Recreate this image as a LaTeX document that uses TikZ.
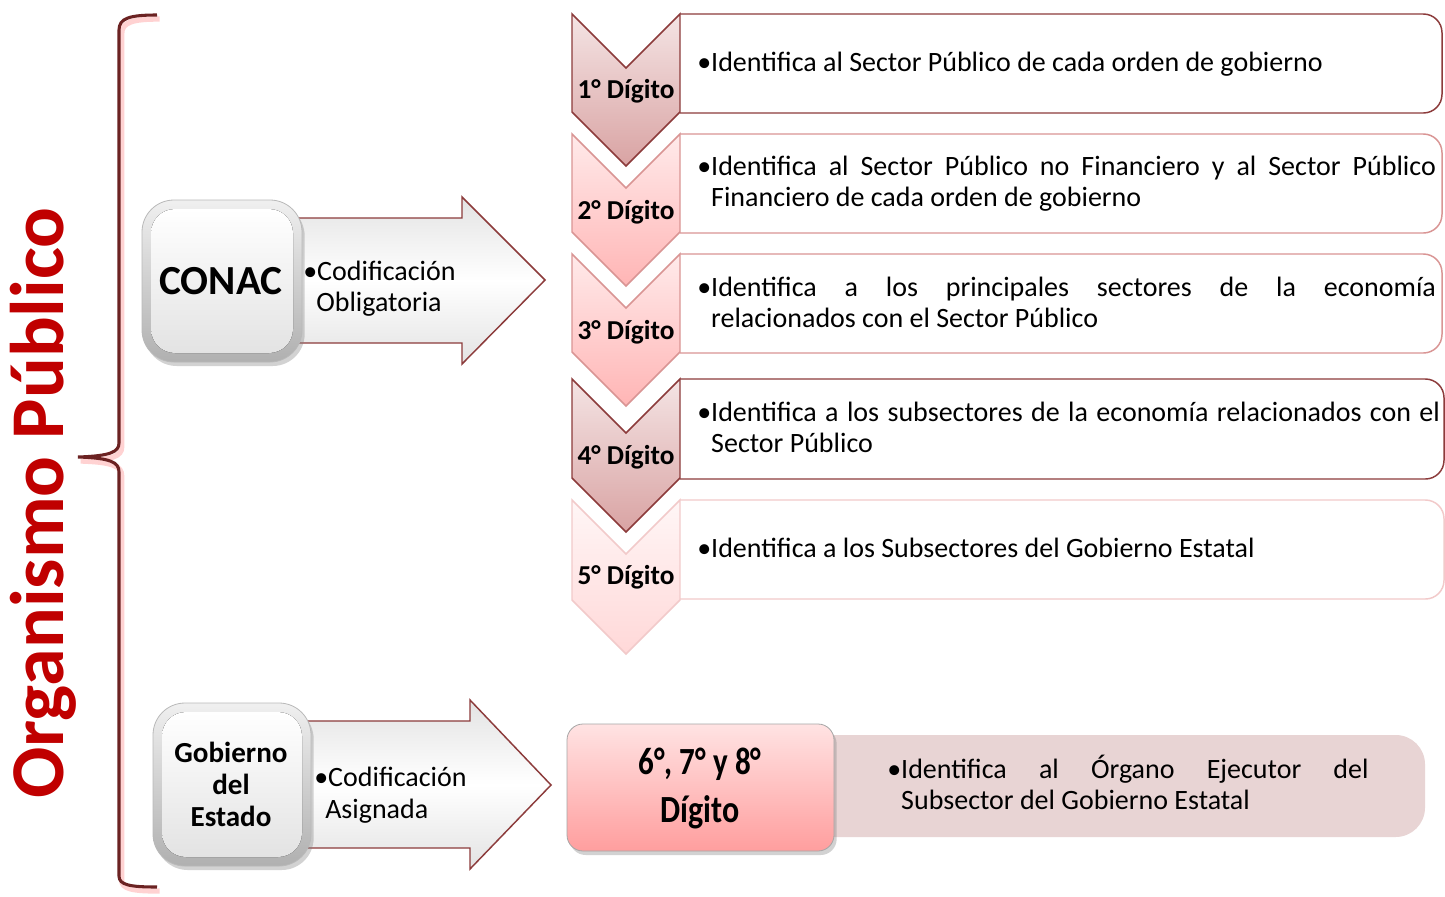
\documentclass[tikz,border=0pt]{standalone}
\usepackage{fontspec}
\setmainfont{Carlito}
\usetikzlibrary{shadows,calc}
\definecolor{dred}{HTML}{8C3B3B}
\definecolor{mred}{HTML}{D99594}
\definecolor{lred}{HTML}{F2CACA}
\definecolor{titlered}{HTML}{C00000}
\definecolor{bracec}{HTML}{6B2222}
\definecolor{boxpink}{HTML}{E8D4D4}
\definecolor{cdtop}{HTML}{F4E4E4}
\definecolor{cdbot}{HTML}{D9A3A3}
\definecolor{cmtop}{HTML}{FFEAEA}
\definecolor{cmbot}{HTML}{FFB5B5}
\definecolor{cltop}{HTML}{FFF6F6}
\definecolor{clbot}{HTML}{FFD8D8}
\definecolor{dgtop}{HTML}{FFE3E3}
\definecolor{dgbot}{HTML}{FF9E9E}
\newcommand\jpar[2]{\parbox[t]{#1}{\fontsize{21}{23.5}\selectfont\lefthyphenmin=64\setbox0\hbox{•}\hangindent=\wd0\hangafter=1\noindent•#2}}
\begin{document}
\begin{tikzpicture}[x=0.75pt,y=-0.75pt,
  chevdark/.style={draw=dred,line width=1.1pt,top color=cdtop,bottom color=cdbot},
  chevmid/.style={draw=mred,line width=1.1pt,top color=cmtop,bottom color=cmbot},
  chevlight/.style={draw=lred,line width=1.1pt,top color=cltop,bottom color=clbot},
  boxdark/.style={draw=dred,line width=1.1pt,fill=white},
  boxmid/.style={draw=mred,line width=1.1pt,fill=white},
  boxlight/.style={draw=lred,line width=1.1pt,fill=white},
  diglbl/.style={font=\fontsize{20.5}{22}\selectfont\bfseries,inner sep=0pt,anchor=base},
  txt/.style={inner sep=0pt,anchor=base west},
  gloss/.style={rounded corners=24,top color=gray!12,bottom color=gray!62,draw=gray!55,line width=0.6pt,drop shadow={shadow xshift=2pt,shadow yshift=-3pt,opacity=0.35}},
  glossin/.style={rounded corners=18,top color=white,bottom color=gray!22,draw=none},
  bigarrow/.style={draw=dred,line width=1.1pt,top color=gray!22,bottom color=gray!22,middle color=white},
  codtxt/.style={inner sep=0pt,anchor=base west,font=\fontsize{21}{23}\selectfont}
]
\useasboundingbox[fill=white] (0,0) rectangle (1445,896);

% title
\node[rotate=90,text=titlered,font=\fontsize{57}{60}\selectfont\bfseries,inner sep=0pt] (title) at (43,503) {Organismo Público};

% brace
\draw[red!35,line width=4pt,opacity=0.5,xshift=2pt,yshift=-3pt] (157,15) .. controls (130,15) and (119,18) .. (119,30) -- (119,443) .. controls (119,452) and (110,456) .. (78,457) .. controls (110,458) and (119,462) .. (119,472) -- (119,876) .. controls (119,885) and (130,887) .. (157,887);
\draw[bracec,line width=2.3pt] (157,15) .. controls (130,15) and (119,18) .. (119,30) -- (119,443) .. controls (119,452) and (110,456) .. (78,457) .. controls (110,458) and (119,462) .. (119,472) -- (119,876) .. controls (119,885) and (130,887) .. (157,887);

% text boxes
\draw[boxdark] (680,14) [rounded corners=14] -- (1442,14) -- (1442,113) -- (680,113);
\draw[boxmid] (680,134) [rounded corners=14] -- (1442,134) -- (1442,233) -- (680,233);
\draw[boxmid] (680,254) [rounded corners=14] -- (1442,254) -- (1442,353) -- (680,353);
\draw[boxdark] (680,379) [rounded corners=14] -- (1444,379) -- (1444,479) -- (680,479);
\draw[boxlight] (680,500) [rounded corners=14] -- (1444,500) -- (1444,599) -- (680,599);

% chevrons
\draw[chevdark] (572,14) -- (626,68) -- (680,14) -- (680,112) -- (626,166) -- (572,112) -- cycle;
\draw[chevmid] (572,134) -- (626,188) -- (680,134) -- (680,232) -- (626,286) -- (572,232) -- cycle;
\draw[chevmid] (572,254) -- (626,308) -- (680,254) -- (680,352) -- (626,406) -- (572,352) -- cycle;
\draw[chevdark] (572,379) -- (626,433) -- (680,379) -- (680,478) -- (626,532) -- (572,478) -- cycle;
\draw[chevlight] (572,500) -- (626,554) -- (680,500) -- (680,600) -- (626,654) -- (572,600) -- cycle;

\node[diglbl] (d1) at (626,98) {1° Dígito};
\node[diglbl] (d2) at (626,219) {2° Dígito};
\node[diglbl] (d3) at (626,339) {3° Dígito};
\node[diglbl] (d4) at (626,464) {4° Dígito};
\node[diglbl] (d5) at (626,584) {5° Dígito};

\node[txt] (t1) at (697,71) {\jpar{600pt}{Identifica al Sector Público de cada orden de gobierno}};
\node[txt] (t2) at (697,175) {\jpar{554pt}{Identifica al Sector Público no Financiero y al Sector Público Financiero de cada orden de gobierno}};
\node[txt] (t3) at (697,296) {\jpar{554pt}{Identifica a los principales sectores de la economía\linebreak relacionados con el Sector Público}};
\node[txt] (t4) at (697,421) {\jpar{557pt}{Identifica a los subsectores de la economía relacionados con el Sector Público}};
\node[txt] (t5) at (697,557) {\jpar{600pt}{Identifica a los Subsectores del Gobierno Estatal}};

% CONAC
\draw[bigarrow] (290,218) -- (462,218) -- (462,197) -- (545,280) -- (462,364) -- (462,343) -- (290,343) -- cycle;
\draw[gloss] (142,200) rectangle (302,362);
\fill[glossin] (151,209) rectangle (293,353);
\node[font=\fontsize{31}{33}\selectfont\bfseries,inner sep=0pt] (conac) at (221,281) {CONAC};
\node[codtxt] (cod1) at (303,280) {•Codificación};
\node[codtxt] (cod1b) at (316,311) {Obligatoria};

% Gobierno del Estado
\draw[bigarrow] (300,721) -- (470,721) -- (470,700) -- (551,785) -- (470,869) -- (470,848) -- (300,848) -- cycle;
\draw[gloss] (153,703) rectangle (311,866);
\fill[glossin] (162,712) rectangle (302,857);
\node[font=\fontsize{21.8}{24}\selectfont\bfseries,align=center,inner sep=0pt] (gob) at (231,784) {Gobierno\\del\\Estado};
\node[codtxt] (cod2) at (314,786) {•Codificación};
\node[codtxt] (cod2b) at (325,818) {Asignada};

% 6 7 8
\fill[boxpink,rounded corners=22] (800,735) rectangle (1425,837);
\draw[rounded corners=12,top color=dgtop,bottom color=dgbot,draw=gray!70,line width=0.6pt,drop shadow={shadow xshift=2pt,shadow yshift=-3pt,opacity=0.35}] (567,724) rectangle (834,851);
\node[font=\fontsize{24}{36}\selectfont\bfseries,inner sep=0pt,anchor=base] (d678a) at (700,774) {\scalebox{0.97}[1.2]{6°, 7° y 8°}};
\node[font=\fontsize{24}{36}\selectfont\bfseries,inner sep=0pt,anchor=base] (d678b) at (700,822) {\scalebox{1}[1.2]{Dígito}};
\node[txt] (t678) at (887,778) {\jpar{361pt}{Identifica al Órgano Ejecutor del Subsector del Gobierno Estatal}};
\end{tikzpicture}
\end{document}
